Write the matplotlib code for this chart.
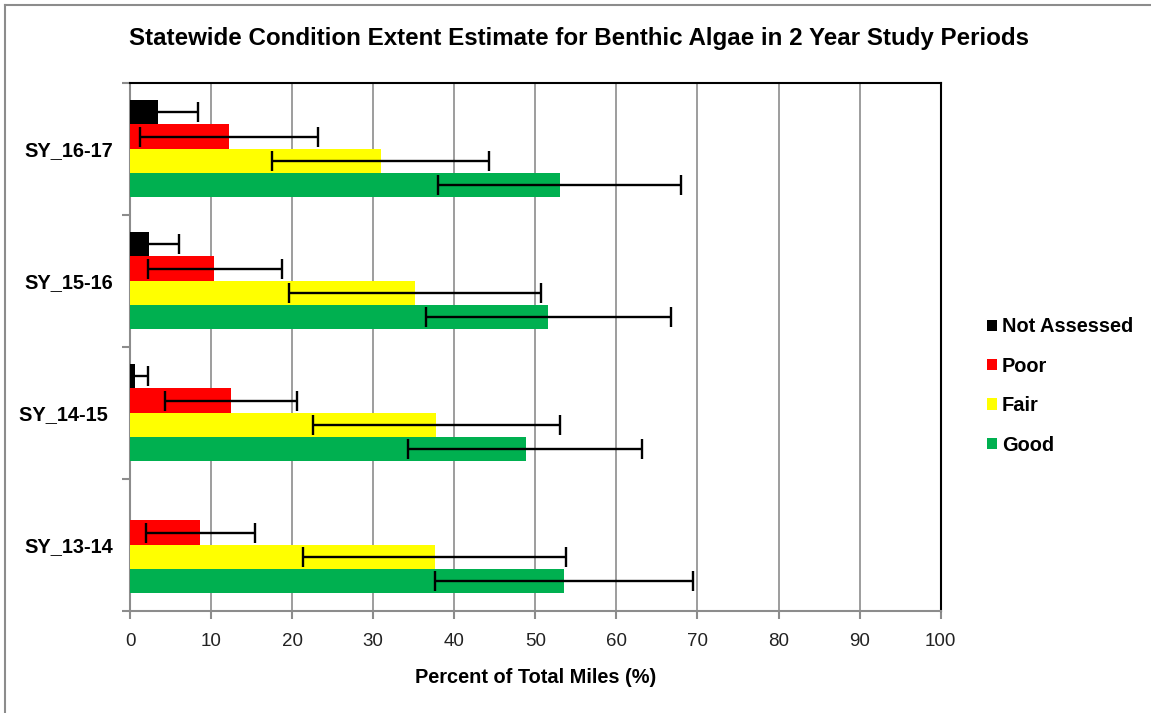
import matplotlib
matplotlib.use("Agg")
import numpy as np
import matplotlib.pyplot as plt
from matplotlib.patches import Patch
from matplotlib.lines import Line2D
from matplotlib import font_manager

# study periods, bottom to top
periods = ["SY_13-14", "SY_14-15 ", "SY_15-16", "SY_16-17"]
classes = ["Not Assessed", "Poor", "Fair", "Good"]
colors = ["#000000", "#FF0000", "#FFFF00", "#00B050"]

# estimates (%) per class, same order as periods
not_assessed = [0.0, 0.57, 2.4, 3.5]
poor = [8.6, 12.4, 10.4, 12.2]
fair = [37.6, 37.8, 35.1, 30.9]
good = [53.5, 48.8, 51.6, 53.1]

# confidence interval bounds
not_assessed_lo = [0.0, -1.1, -1.3, -1.4]
not_assessed_hi = [0.0, 2.2, 6.1, 8.4]
poor_lo = [2.0, 4.3, 2.2, 1.2]
poor_hi = [15.4, 20.6, 18.8, 23.2]
fair_lo = [21.3, 22.6, 19.6, 17.5]
fair_hi = [53.8, 53.0, 50.7, 44.3]
good_lo = [37.6, 34.3, 36.5, 38.0]
good_hi = [69.5, 63.1, 66.7, 68.0]

names = {f.name for f in font_manager.fontManager.ttflist}
font = "Liberation Sans" if "Liberation Sans" in names else "DejaVu Sans"
plt.rcParams["font.family"] = font

fig = plt.figure(figsize=(11.51, 7.13), dpi=100)
ax = fig.add_axes([130 / 1151, 1 - 610.7 / 713, 810.7 / 1151, 528 / 713])

values = [not_assessed, poor, fair, good]
lows = [not_assessed_lo, poor_lo, fair_lo, good_lo]
highs = [not_assessed_hi, poor_hi, fair_hi, good_hi]
h = 0.184
offsets = [1.5 * h, 0.5 * h, -0.5 * h, -1.5 * h]
y = np.arange(len(periods))

for vals, lo, hi, col, off, name in zip(values, lows, highs, colors, offsets, classes):
    vals = np.array(vals)
    pos = y + off
    ax.barh(pos, vals, height=h, color=col, label=name, zorder=3)
    lo = np.array(lo)
    hi = np.array(hi)
    show = hi > 0
    ax.errorbar(vals[show], pos[show], xerr=[vals[show] - lo[show], hi[show] - vals[show]],
                fmt="none", ecolor="black", elinewidth=1.7, capsize=7.5, capthick=1.7, zorder=4)

ax.set_xlim(0, 100)
ax.set_ylim(-0.5, 3.5)
ax.set_xticks(np.arange(0, 101, 10))
ax.set_yticks(y)
ax.set_yticklabels(periods, fontsize=14.4, fontweight="bold")
ax.set_yticks(np.arange(-0.5, 3.6, 1), minor=True)
ax.tick_params(axis="y", which="major", length=0, pad=12)
ax.tick_params(axis="y", which="minor", length=6, width=1.5, color="#8c8c8c")
ax.tick_params(axis="x", length=6, width=1.5, color="#8c8c8c", labelsize=13.5, pad=10,
               labelcolor="#222222")
ax.grid(axis="x", color="#8c8c8c", linewidth=1.2, zorder=0)
ax.set_axisbelow(True)
for s in ["left", "bottom"]:
    ax.spines[s].set_color("#8c8c8c")
    ax.spines[s].set_linewidth(1.5)
for s in ["top", "right"]:
    ax.spines[s].set_color("black")
    ax.spines[s].set_linewidth(1.5)

ax.set_xlabel("Percent of Total Miles (%)", fontsize=14.4, fontweight="bold", labelpad=13)

fig.text(579 / 1151, 1 - 38.5 / 713,
         "Statewide Condition Extent Estimate for Benthic Algae in 2 Year Study Periods",
         ha="center", va="center", fontsize=17.4, fontweight="bold")

handles = [Patch(facecolor=c, edgecolor="none") for c in colors]
leg = fig.legend(handles, classes, loc="center left", bbox_to_anchor=(969 / 1151, 1 - 386 / 713),
                 frameon=False, prop={"size": 14.4, "weight": "bold"},
                 handlelength=0.5, handleheight=0.5, handletextpad=0.25, labelspacing=1.02)

fig.add_artist(Line2D([5 / 1151, 5 / 1151], [0, 1 - 5 / 713], transform=fig.transFigure,
                      color="#8c8c8c", linewidth=1.5))
fig.add_artist(Line2D([5 / 1151, 1], [1 - 5 / 713, 1 - 5 / 713], transform=fig.transFigure,
                      color="#8c8c8c", linewidth=1.5))

fig.savefig("out.png", dpi=100)
